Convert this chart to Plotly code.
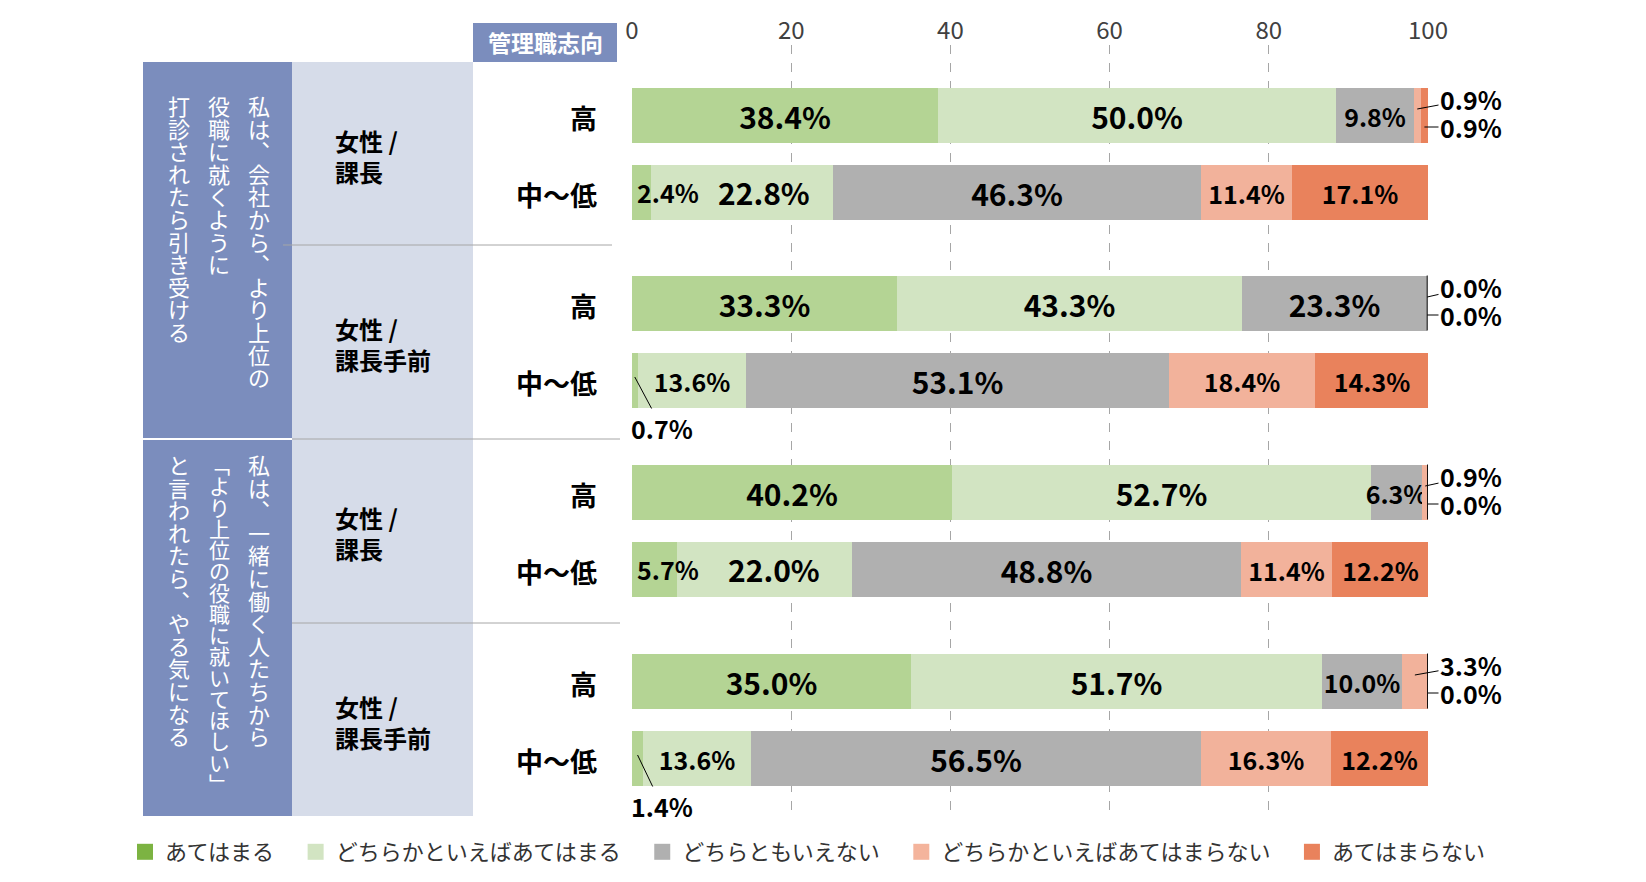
import plotly.graph_objects as go

# survey answer categories (legend order)
categories = ['あてはまる', 'どちらかといえばあてはまる', 'どちらともいえない',
              'どちらかといえばあてはまらない', 'あてはまらない']

# two statements, written in vertical columns (right column first)
question_columns = [
    ['私は、会社から、より上位の', '役職に就くように', '打診されたら引き受ける'],
    ['私は、一緒に働く人たちから', '「より上位の役職に就いてほしい」', 'と言われたら、やる気になる'],
]
group_labels = ['女性 /<br>課長', '女性 /<br>課長手前']
level_labels = ['高', '中～低']
header_label = '管理職志向'

# rows: Q1 課長 高, 中～低, Q1 課長手前 高, 中～低, Q2 課長 高, 中～低, Q2 課長手前 高, 中～低
atehamaru = [38.4, 2.4, 33.3, 0.7, 40.2, 5.7, 35.0, 1.4]
dochiraka_atehamaru = [50.0, 22.8, 43.3, 13.6, 52.7, 22.0, 51.7, 13.6]
dochiratomo = [9.8, 46.3, 23.3, 53.1, 6.3, 48.8, 10.0, 56.5]
dochiraka_atehamaranai = [0.9, 11.4, 0.0, 18.4, 0.9, 11.4, 3.3, 16.3]
atehamaranai = [0.9, 17.1, 0.0, 14.3, 0.0, 12.2, 0.0, 12.2]

series = [atehamaru, dochiraka_atehamaru, dochiratomo, dochiraka_atehamaranai, atehamaranai]
x_ticks = [0, 20, 40, 60, 80, 100]

bar_colors = ['#b4d494', '#d2e4c2', '#b0b0b0', '#f2b29b', '#e9825c']
legend_colors = ['#7cb342', '#d2e4c2', '#b0b0b0', '#f4b49c', '#e9825c']
dark_blue = '#7b8dbd'
light_blue = '#d6dce9'
FONT = 'Noto Sans CJK JP'

# layout in pixels of the target picture; the page body adds an 8px offset
W, H = 1646, 882
OFF = 8
FIG_W, FIG_H = W - 2 * OFF, H - 2 * OFF
PX0, PX1 = 632, 1428        # x = 0 .. 100
PY0, PY1 = 45, 818          # plot area top / bottom
panel_edges = [62, 245, 438, 623, 816]
row_off = 38.5
PX_PER_UNIT = (PX1 - PX0) / 100


def xp(p):
    return (p - PX0) / (PX1 - PX0)


def yp(p):
    return (PY1 - p) / (PY1 - PY0)


row_y = []
for i in range(4):
    c = (panel_edges[i] + panel_edges[i + 1]) / 2
    row_y += [c - row_off, c + row_off]

shapes = []
annotations = []
lab_font = dict(family=FONT, size=25, color='black', weight='bold')


def seg_label(v):
    return f'{v:.1f}%'


def label_size(v):
    return 30 if v >= 20 else 25


# rows whose first segment is small get their label drawn from the bar start,
# so the next label is centred in the space that is left
small_first = [2 <= atehamaru[r] < 6 for r in range(len(atehamaru))]

fig = go.Figure()

for k, vals in enumerate(series):
    texts = []
    for r, v in enumerate(vals):
        if v < 6 or (k == 1 and small_first[r]):
            texts.append('')
        else:
            texts.append(seg_label(v))
    fig.add_trace(go.Bar(
        x=vals, y=row_y, orientation='h', width=55,
        marker=dict(color=bar_colors[k], line=dict(width=0)),
        text=texts,
        textposition='inside', insidetextanchor='middle', textangle=0,
        constraintext='none',
        textfont=dict(family=FONT, color='black', weight='bold',
                      size=[label_size(v) for v in vals]),
        showlegend=False, hoverinfo='skip',
    ))

# legend-only markers (the spaces widen the gap between entries)
for k, name in enumerate(categories):
    fig.add_trace(go.Scatter(
        x=[None], y=[None], mode='markers', name=name + '\u2002\u2005',
        marker=dict(symbol='square', size=18, color=legend_colors[k], line=dict(width=0)),
    ))

# labels for the small segments
for r, yc in enumerate(row_y):
    vals = [s[r] for s in series]
    cum = [sum(vals[:k]) for k in range(6)]
    v0 = vals[0]
    if small_first[r]:
        annotations.append(dict(x=0, y=yc, xref='x', yref='y', text=seg_label(v0),
                                xanchor='left', yanchor='middle', xshift=3,
                                showarrow=False, font=lab_font))
        free = 64 / PX_PER_UNIT
        annotations.append(dict(x=(free + cum[2]) / 2, y=yc, xref='x', yref='y',
                                text=seg_label(vals[1]), xanchor='center', yanchor='middle',
                                showarrow=False,
                                font=dict(lab_font, size=label_size(vals[1]))))
    elif v0 < 2:
        annotations.append(dict(x=v0 / 2, y=yc - 3, xref='x', yref='y',
                                ax=30 / PX_PER_UNIT, ay=yc + 48, axref='x', ayref='y',
                                text=seg_label(v0), showarrow=True, arrowhead=0,
                                arrowwidth=1, arrowcolor='black', standoff=0, font=lab_font))
    if vals[3] < 6 and vals[4] < 6:
        hx3 = cum[3] + vals[3] / 2 if vals[3] > 0 else min(cum[3], 100)
        hx4 = cum[4] + vals[4] / 2 if vals[4] > 0 else min(cum[4], 100)
        tx = (1471 - PX0) / PX_PER_UNIT
        annotations.append(dict(x=hx3, y=yc - 6, xref='x', yref='y',
                                ax=tx, ay=yc - 16, axref='x', ayref='y',
                                text=seg_label(vals[3]), showarrow=True, arrowhead=0,
                                arrowwidth=1, arrowcolor='black', standoff=0, font=lab_font))
        annotations.append(dict(x=hx4, y=yc + 12, xref='x', yref='y',
                                ax=tx, ay=yc + 12, axref='x', ayref='y',
                                text=seg_label(vals[4]), showarrow=True, arrowhead=0,
                                arrowwidth=1, arrowcolor='black', standoff=0, font=lab_font))
    if vals[4] == 0:
        xz = min(cum[4], 99.95)
        shapes.append(dict(type='line', xref='x', yref='y', x0=xz, x1=xz,
                           y0=yc - 27.5, y1=yc + 27.5, line=dict(color='black', width=1)))


# left table
def rect(x0, y0, x1, y1, color):
    shapes.append(dict(type='rect', xref='paper', yref='paper', x0=xp(x0), x1=xp(x1),
                       y0=yp(y0), y1=yp(y1), fillcolor=color, line=dict(width=0), layer='below'))


def hline(x0, x1, y, color, width=1):
    shapes.append(dict(type='line', xref='paper', yref='paper', x0=xp(x0), x1=xp(x1),
                       y0=yp(y), y1=yp(y), line=dict(color=color, width=width)))


def note(x, y, text, font, xanchor='center', **kw):
    annotations.append(dict(x=xp(x), y=yp(y), xref='paper', yref='paper', text=text,
                            showarrow=False, xanchor=xanchor, yanchor='middle',
                            font=font, **kw))


rect(292, panel_edges[0], 473, panel_edges[4], light_blue)
rect(143, panel_edges[0], 292, panel_edges[2], dark_blue)
rect(143, panel_edges[2] + 2, 292, panel_edges[4], dark_blue)
rect(473, 23, 617, 62, dark_blue)
hline(283, 612, panel_edges[1], '#a6a6a6')
hline(143, 292, panel_edges[2] + 1, 'white', 2)
hline(292, 620, panel_edges[2] + 1, '#a6a6a6')
hline(292, 620, panel_edges[3], '#a6a6a6')

note(545, 42, header_label, dict(family=FONT, size=23, color='white', weight='bold'))

# vertical writing: one character per line, line pitch set by the base font size
vertical_forms = {'、': '︑', '「': '﹁', '」': '﹂'}
col_x = [259, 219, 179]
col_top = [94, 453]
for q, cols in enumerate(question_columns):
    for j, col in enumerate(cols):
        pitch = min(22.6, 340 / len(col))
        glyph = min(22, round(pitch - 0.5))
        text = '<br>'.join(f'<span style="font-size:{glyph}px">{vertical_forms.get(ch, ch)}</span>'
                           for ch in col)
        note(col_x[j], col_top[q] + len(col) * pitch / 2, text,
             dict(family=FONT, size=pitch / 1.3, color='white'))

for p in range(4):
    c = (panel_edges[p] + panel_edges[p + 1]) / 2
    note(333, c + 2, group_labels[p % 2],
         dict(family=FONT, size=24, color='black', weight='bold'), xanchor='left', align='left')

for r, yc in enumerate(row_y):
    note(599, yc + 2, level_labels[r % 2],
         dict(family=FONT, size=27, color='black', weight='bold'), xanchor='right')

fig.update_layout(
    width=FIG_W, height=FIG_H,
    margin=dict(l=PX0 - OFF, r=FIG_W - (PX1 - OFF), t=PY0 - OFF, b=FIG_H - (PY1 - OFF),
                autoexpand=False),
    plot_bgcolor='white', paper_bgcolor='white',
    barmode='stack', bargap=0,
    font=dict(family=FONT),
    shapes=shapes, annotations=annotations,
    showlegend=True,
    legend=dict(orientation='h', x=xp(125), y=yp(831), xanchor='left', yanchor='top',
                traceorder='normal',
                font=dict(family=FONT, size=22, color='#333333'),
                bgcolor='rgba(0,0,0,0)', itemsizing='trace'),
    xaxis=dict(range=[0, 100], side='top', tickvals=x_ticks, showgrid=True,
               gridcolor='#a6a6a6', griddash='dash', gridwidth=1, zeroline=False,
               showline=False, ticks='', tickfont=dict(family=FONT, size=24, color='#404040'),
               fixedrange=True),
    yaxis=dict(range=[PY1, PY0], showgrid=False, zeroline=False, showticklabels=False,
               showline=False, ticks='', fixedrange=True),
)

fig.write_html('out.html')
